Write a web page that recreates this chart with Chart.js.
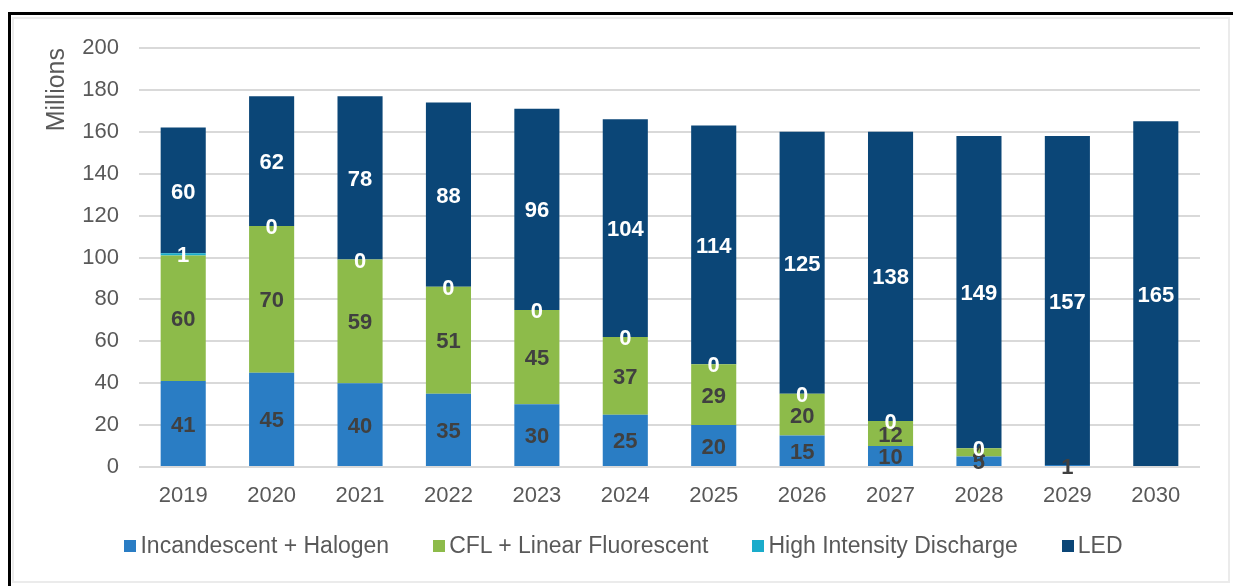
<!DOCTYPE html>
<html lang="en">

<head>
    <meta charset="UTF-8">
    <title>Lamp stock</title>
    <script src="https://cdn.jsdelivr.net/npm/chart.js@4.4.0/dist/chart.umd.min.js"></script>
    <style>
        body { margin: 0; background: #fff; width: 1233px; height: 586px; overflow: hidden; position: relative; font-family: Arial, "Liberation Sans", sans-serif; }
        .frame { position: absolute; left: 8px; top: 12px; right: 0; bottom: 0; border-top: 3px solid #000; border-left: 3px solid #000; }
        .inner { position: absolute; left: 12px; top: 17px; width: 1214px; height: 562px; border: 2px solid #ebebeb; }
        #box { position: absolute; left: 0; top: 0; width: 1233px; height: 586px; }
        #legend { position: absolute; left: 0; width: 1233px; top: 532px; display: flex; justify-content: center; padding-left: 14px; box-sizing: border-box; }
        #legend span.item { display: flex; align-items: center; margin: 0 22px; font-size: 23px; color: #595959; }
        #legend i { display: inline-block; width: 12px; height: 12px; margin-right: 4px; }
    </style>
</head>

<body>
    <div class="frame"></div>
    <div class="inner"></div>
    <div id="box"><canvas id="myChart"></canvas></div>
    <div id="legend"></div>
    <script>
        var years = ['2019', '2020', '2021', '2022', '2023', '2024', '2025', '2026', '2027', '2028', '2029', '2030'];
        var incandescent = [41, 45, 40, 35, 30, 25, 20, 15, 10, 5, 1, null];
        var cfl = [60, 70, 59, 51, 45, 37, 29, 20, 12, 4, null, null];
        var hid = [1, 0, 0, 0, 0, 0, 0, 0, 0, 0, null, null];
        var led = [60, 62, 78, 88, 96, 104, 114, 125, 138, 149, 157, 165];
        var yTicks = [0, 20, 40, 60, 80, 100, 120, 140, 160, 180, 200];

        var names = ['Incandescent + Halogen', 'CFL + Linear Fluorescent', 'High Intensity Discharge', 'LED'];
        var colors = ['#2a7dc4', '#8dbb4a', '#1aaccb', '#0b4677'];
        var labelColors = ['#404040', '#404040', '#ffffff', '#ffffff'];

        // draws the numbers in the middle of each segment
        var segLabels = {
            id: 'segLabels',
            afterDatasetsDraw: function (chart) {
                var c = chart.ctx;
                c.save();
                c.font = 'bold 22px Arial';
                c.textAlign = 'center';
                c.textBaseline = 'middle';
                chart.data.datasets.forEach(function (ds, i) {
                    var meta = chart.getDatasetMeta(i);
                    meta.data.forEach(function (bar, j) {
                        var v = ds.data[j];
                        if (v === null || v === undefined) return;
                        c.fillStyle = labelColors[i];
                        c.fillText(String(v), bar.x, (bar.y + bar.base) / 2 + 2);
                    });
                });
                c.restore();
            }
        };

        var series = [incandescent, cfl, hid, led];
        var ds = [];
        for (let i = 0; i < series.length; i++) {
            ds.push({
                label: names[i],
                data: series[i],
                backgroundColor: colors[i],
                borderWidth: 0,
                categoryPercentage: 0.51,
                barPercentage: 1
            });
        }

        var ctx = document.getElementById('myChart');
        var myChart = new Chart(ctx, {
            type: 'bar',
            data: { labels: years, datasets: ds },
            options: {
                responsive: true,
                maintainAspectRatio: false,
                animation: false,
                layout: { padding: { top: 48, right: 33, left: 40, bottom: 69 } },
                plugins: { legend: { display: false }, tooltip: { enabled: false } },
                scales: {
                    x: {
                        stacked: true,
                        grid: { display: false, drawTicks: false },
                        border: { display: false },
                        ticks: { color: '#595959', font: { family: 'Arial', size: 22 }, padding: 16, maxRotation: 0 },
                        afterFit: function (s) { s.height = 50; }
                    },
                    y: {
                        stacked: true,
                        min: 0,
                        max: 200,
                        afterBuildTicks: function (s) { s.ticks = yTicks.map(function (v) { return { value: v }; }); },
                        grid: { color: '#d9d9d9', lineWidth: 2, drawTicks: false },
                        border: { display: false },
                        ticks: { color: '#595959', font: { family: 'Arial', size: 22 }, padding: 20 },
                        title: { display: true, text: 'Millions', align: 'end', color: '#595959', font: { family: 'Arial', size: 25 }, padding: { top: 2, bottom: 0 } },
                        afterFit: function (s) { s.width = 99; }
                    }
                }
            },
            plugins: [segLabels]
        });

        var lg = document.getElementById('legend');
        myChart.data.datasets.forEach(function (d) {
            var it = document.createElement('span');
            it.className = 'item';
            it.innerHTML = '<i style="background:' + d.backgroundColor + '"></i>' + d.label;
            lg.appendChild(it);
        });
    </script>
</body>

</html>
